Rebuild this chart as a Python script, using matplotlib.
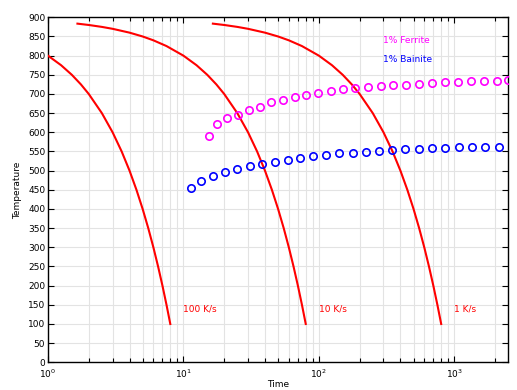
import matplotlib
matplotlib.use("Agg")
import matplotlib.pyplot as plt
from matplotlib.ticker import LogLocator, MultipleLocator, NullFormatter

# Cooling curves (time in s, temperature)
c100_t = [1, 1.25, 1.5, 1.75, 2, 2.5, 3, 3.5, 4, 4.5, 5, 5.5, 6, 6.5, 7, 7.5, 8]
c100_T = [800, 775, 750, 725, 700, 650, 600, 550, 500, 450, 400, 350, 300, 250, 200, 150, 100]
c10_t = [1.65, 2, 2.5, 3, 4, 5, 6, 7.5, 10, 12.5, 15, 17.5, 20, 25, 30, 35, 40, 45, 50,
         55, 60, 65, 70, 75, 80]
c10_T = [883.5, 880, 875, 870, 860, 850, 840, 825, 800, 775, 750, 725, 700, 650, 600,
         550, 500, 450, 400, 350, 300, 250, 200, 150, 100]
c1_t = [16.5, 20, 25, 30, 40, 50, 60, 75, 100, 125, 150, 175, 200, 250, 300, 350, 400,
        450, 500, 550, 600, 650, 700, 750, 800]
c1_T = [883.5, 880, 875, 870, 860, 850, 840, 825, 800, 775, 750, 725, 700, 650, 600,
        550, 500, 450, 400, 350, 300, 250, 200, 150, 100]

# 1% Ferrite
fer_t = [15.5, 17.7, 21.0, 25.4, 30.6, 36.7, 44.4, 54.1, 66.2, 81.0, 98.5, 122, 151, 185,
         230, 286, 353, 441, 550, 686, 855, 1067, 1331, 1667, 2082, 2500]
fer_T = [590, 621, 636.6, 644.4, 657.5, 666.8, 678.3, 685, 691.4, 696.6, 702.6, 707.8,
         712.2, 715.6, 718.3, 720, 722.7, 724.2, 726.8, 728.7, 730.5, 732, 733, 733.9,
         734.7, 736.5]

# 1% Bainite
bai_t = [11.3, 13.5, 16.5, 20.3, 24.9, 30.9, 38.2, 47.4, 58.8, 73.1, 91.2, 113.4, 141.6,
         177.8, 221.8, 276.8, 345.3, 435.1, 546.8, 682, 860, 1079, 1354, 1699, 2143]
bai_T = [454, 472.2, 485.3, 495.7, 504.3, 512.1, 518.1, 523.4, 528.6, 533.8, 537.4, 541.6,
         545.3, 546.8, 549.4, 552, 554.7, 556.5, 557.3, 558.3, 559.9, 560.9, 560.9, 561.7,
         561.7]

rate_labels = ["100 K/s", "10 K/s", "1 K/s"]
rate_label_t = [10, 100, 1000]
rate_label_T = 140

fs = 6.5
fig = plt.figure(figsize=(5.17, 3.90), dpi=100)
ax = fig.add_axes([0.0928, 0.071, 0.8902, 0.8846])

for t, T in [(c100_t, c100_T), (c10_t, c10_T), (c1_t, c1_T)]:
    ax.plot(t, T, color="#ff0000", lw=1.5, zorder=3)

ax.plot(fer_t, fer_T, ls="none", marker="o", ms=5.3, mfc="none", mec="#ff00ff",
        mew=1.2, zorder=4)
ax.plot(bai_t, bai_T, ls="none", marker="o", ms=5.3, mfc="none", mec="#0000ff",
        mew=1.2, zorder=4)

for lab, tx in zip(rate_labels, rate_label_t):
    ax.text(tx, rate_label_T, lab, color="#ff0000", fontsize=fs, ha="left", va="center")

ax.text(300, 840, "1% Ferrite", color="#ff00ff", fontsize=fs, ha="left", va="center")
ax.text(300, 789, "1% Bainite", color="#0000ff", fontsize=fs, ha="left", va="center")

ax.set_xscale("log")
ax.set_xlim(1, 2500)
ax.set_ylim(0, 900)
ax.yaxis.set_major_locator(MultipleLocator(50))
ax.xaxis.set_major_locator(LogLocator(base=10))
ax.xaxis.set_minor_locator(LogLocator(base=10, subs=range(2, 10)))
ax.xaxis.set_minor_formatter(NullFormatter())

ax.grid(True, which="major", color="#e3e3e3", lw=0.8, zorder=0)
ax.grid(True, which="minor", axis="x", color="#e3e3e3", lw=0.8, zorder=0)
ax.set_axisbelow(True)

ax.tick_params(which="both", direction="in", top=True, right=True, labelsize=fs,
               width=0.8)
ax.tick_params(axis="y", pad=2)
ax.tick_params(axis="x", pad=4)
ax.tick_params(which="major", length=4)
ax.tick_params(which="minor", length=3)
for s in ax.spines.values():
    s.set_linewidth(1.0)

ax.set_xlabel("Time", fontsize=fs, labelpad=0)
ax.set_ylabel("Temperature", fontsize=fs, labelpad=4)

fig.savefig("out.png", dpi=100)
